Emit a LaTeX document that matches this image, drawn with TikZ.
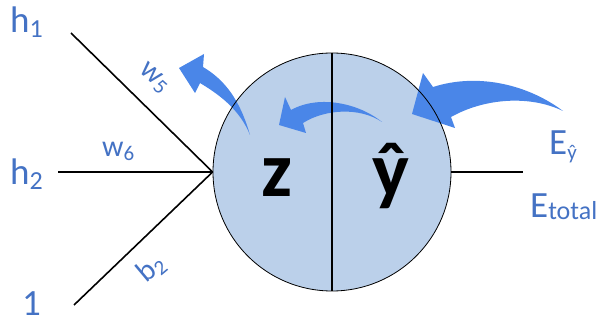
\documentclass[tikz,border=0pt]{standalone}
\usepackage{fontspec}
\setmainfont{Carlito}
\usetikzlibrary{positioning}
\definecolor{labelblue}{HTML}{4472C4}
\definecolor{arrowblue}{HTML}{4A86E8}
\definecolor{cellfill}{HTML}{BBD0EA}
% lowered subscript: drop, size, text
\newcommand{\lsub}[3]{\raisebox{-#1pt}{\fontsize{#2}{#2}\selectfont #3}}
\tikzset{
  cell/.style={circle, fill=cellfill, minimum size=238pt, inner sep=0pt},
  rim/.style={circle, draw=black, line width=0.8pt, minimum size=238pt, inner sep=0pt},
  wire/.style={line width=1.6pt, draw=black},
  inlabel/.style={text=labelblue, font=\fontsize{37}{38}\selectfont, inner sep=0pt, anchor=base west},
  wlabel/.style={text=labelblue, font=\fontsize{30}{30}\selectfont, inner sep=0pt},
  bigsym/.style={font=\fontsize{78}{78}\selectfont\bfseries, inner sep=0pt, anchor=base},
  backarrow/.style={fill=arrowblue, draw=none}
}

\begin{document}
\begin{tikzpicture}[x=1pt, y=-1pt]
  \useasboundingbox (0,0) rectangle (600,323);
  \node[cell] (neuron) at (332,172) {};
  % gradients flowing back
  \fill[backarrow] (563,111) .. controls (530,86) and (480,72) .. (433,87)
    -- (423,73) -- (412,114) -- (455,128) -- (451,117)
    .. controls (485,98) and (530,95) .. (563,111) -- cycle;
  \fill[backarrow] (382,122) .. controls (360,104) and (320,94) .. (291,110)
    -- (285,97) -- (279,125) -- (306,133) -- (303,123)
    .. controls (325,109) and (360,107) .. (382,122) -- cycle;
  \fill[backarrow] (250,135) .. controls (240,100) and (225,80) .. (203,67)
    -- (204,54) -- (179,68) -- (195,93) -- (200,83)
    .. controls (220,95) and (240,110) .. (250,135) -- cycle;
  \node[rim] (rim) at (neuron) {};
  \draw[line width=1.1pt] (rim.north) -- (rim.south);
  \node[bigsym] (z) at (277,197) {z};
  \node[bigsym] (yhat) at (391,197) {ŷ};
  % inputs
  \coordinate (in1) at (71,33);
  \coordinate (in2) at (58,172);
  \coordinate (in3) at (74,305);
  \coordinate (out) at (523,172);
  \draw[wire] (in1) -- (rim.west);
  \draw[wire] (in2) -- (rim.west);
  \draw[wire] (in3) -- (rim.west);
  \draw[wire] (rim.east) -- (out);
  \node[inlabel] (h1) at (10,33) {h\lsub{5}{26}{1}};
  \node[inlabel] (h2) at (10,185) {h\lsub{5}{26}{2}};
  \node[inlabel] (one) at (22,316) {1};
  \node[wlabel, rotate=-42] (w5) at (154,78) {w\lsub{4}{21}{5}};
  \node[wlabel, anchor=base west] (w6) at (102,157) {w\lsub{4}{21}{6}};
  \node[wlabel, rotate=40] (b2) at (151,269) {b\lsub{4}{21}{2}};
  \node[inlabel] (ey) at (549,155) {E\lsub{5}{21}{ŷ}};
  \node[inlabel] (et) at (530,218) {E\lsub{2}{26}{total}};
\end{tikzpicture}
\end{document}
